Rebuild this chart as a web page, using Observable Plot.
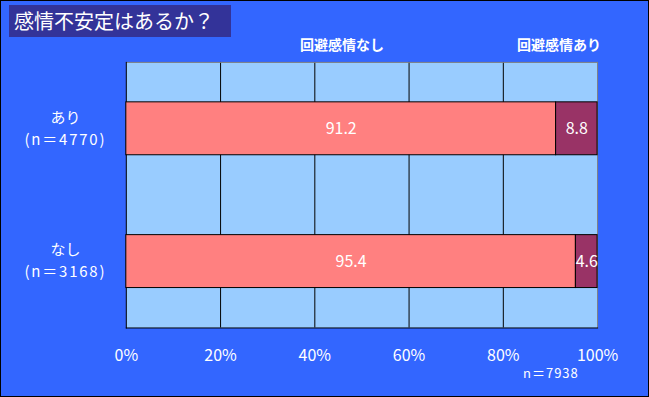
<!DOCTYPE html>
<html>
<head>
<meta charset="utf-8">
<script src="https://cdn.jsdelivr.net/npm/d3@7"></script>
<script src="https://cdn.jsdelivr.net/npm/@observablehq/plot@0.6"></script>
<style>
  html, body { margin: 0; padding: 0; background: #3366FF; }
  #wrap { position: relative; width: 649px; height: 397px; background: #3366FF; box-sizing: border-box; border: 1px solid #000; overflow: hidden; font-family: "Noto Sans CJK JP", sans-serif; color: #fff; }
  #chart { position: absolute; left: -1px; top: -1px; }
  .abs { position: absolute; white-space: nowrap; }
  #title { left: 8px; top: 4px; width: 222px; height: 32px; background: #333399; font-size: 20px; line-height: 32px; padding-left: 5px; box-sizing: border-box; }
  .leg { font-size: 14px; font-weight: bold; top: 34px; line-height: 18px; }
  #ntotal { left: 522px; top: 364px; font-size: 13px; line-height: 16px; letter-spacing: 1px; }
</style>
</head>
<body>
<div id="wrap">
  <div id="chart"></div>
  <div id="title" class="abs">感情不安定はあるか？</div>
  <div class="abs leg" style="left:299px">回避感情なし</div>
  <div class="abs leg" style="left:516px">回避感情あり</div>
  <div id="ntotal" class="abs">n＝7938</div>
</div>
<script>
const categories = ["あり", "なし"];
const sampleSizes = [4770, 3168];
const series = ["回避感情なし", "回避感情あり"];
const noAvoidance = [91.2, 95.4];
const withAvoidance = [8.8, 4.6];
const xTicks = [0, 20, 40, 60, 80, 100];
const seriesColors = ["#FF8080", "#993366"];

const rows = [];
categories.forEach((c, i) => {
  rows.push({cat: c, series: series[0], value: noAvoidance[i]});
  rows.push({cat: c, series: series[1], value: withAvoidance[i]});
});
const yLabels = categories.map((c, i) => ({cat: c, n: `(n＝${sampleSizes[i]})`}));

const chart = Plot.plot({
  width: 649,
  height: 397,
  marginLeft: 126,
  marginRight: 51,
  marginTop: 62,
  marginBottom: 69,
  style: {background: "transparent", color: "#fff", fontFamily: "'Noto Sans CJK JP', sans-serif", overflow: "visible"},
  x: {domain: [0, 100], axis: null},
  y: {domain: categories, paddingInner: 0.6, paddingOuter: 0.3, axis: null},
  color: {domain: series, range: seriesColors},
  marks: [
    Plot.frame({fill: "#99CCFF", stroke: "none"}),
    Plot.ruleX(xTicks.slice(1, -1), {stroke: "#000", strokeWidth: 1}),
    Plot.frame({anchor: "top", stroke: "#808080"}),
    Plot.frame({anchor: "right", stroke: "#808080"}),
    Plot.frame({anchor: "left", stroke: "#000"}),
    Plot.frame({anchor: "bottom", stroke: "#000"}),
    Plot.barX(rows, Plot.stackX({x: "value", y: "cat", fill: "series", stroke: "#000", strokeWidth: 1, order: null})),
    Plot.text(rows, Plot.stackX({x: "value", y: "cat", text: d => d.value.toFixed(1), fill: "#fff", fontSize: 16, order: null})),
    Plot.axisX({ticks: xTicks, tickFormat: d => d + "%", tickSize: 0, tickPadding: 22, fontSize: 16, fill: "#fff", label: null}),
    Plot.text(yLabels, {y: "cat", text: "cat", frameAnchor: "left", dx: -61, dy: -11, textAnchor: "middle", fill: "#fff", fontSize: 15}),
    Plot.text(yLabels, {y: "cat", text: "n", frameAnchor: "left", dx: -61, dy: 11, textAnchor: "middle", fill: "#fff", fontSize: 15})
  ]
});
d3.select(chart).selectAll("text").filter(function() { return this.textContent.startsWith("(n"); }).style("letter-spacing", "1.8px");
document.getElementById("chart").appendChild(chart);
</script>
</body>
</html>
